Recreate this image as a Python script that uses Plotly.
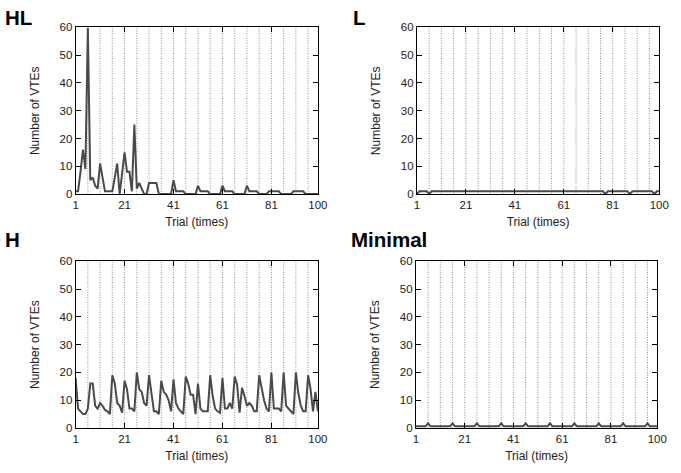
import plotly.graph_objects as go

trials = list(range(1, 101))

hl_vtes = [1, 1, 8, 16, 9, 60, 5, 6, 3, 2,
           11, 6, 1, 1, 1, 1, 6, 11, 0, 7,
           15, 8, 8, 1, 25, 2, 4, 2, 0, 0,
           4, 4, 4, 4, 0, 0, 0, 0, 0, 0,
           5, 1, 1, 1, 1, 0, 0, 0, 0, 0,
           3, 1, 1, 1, 1, 0, 0, 0, 0, 0,
           3, 1, 1, 1, 1, 0, 0, 0, 0, 0,
           3, 1, 1, 1, 1, 0, 0, 0, 0, 1,
           1, 1, 1, 1, 0, 0, 0, 0, 0, 1,
           1, 1, 1, 1, 0, 0, 0, 0, 0, 0]

l_vtes = [0, 1, 1, 1, 1, 0, 1, 1, 1, 1] + [1] * 67 + [0] + [1] * 9 + [0] + [1] * 9 + [0, 1, 1]

h_vtes = [18, 7, 6, 5, 5, 7, 16, 16, 8, 7,
          9, 8, 6.5, 6, 5, 19, 16, 9, 8, 5.5,
          17, 14, 7, 7, 6, 20, 14, 13, 9, 8,
          19, 11.5, 6, 6, 5, 17, 13, 12, 10, 6,
          17.5, 9, 7, 6, 5, 18.5, 16, 12, 12, 5,
          16, 7, 6, 6, 6, 19, 11.5, 7, 6, 5.5,
          18, 7, 7, 9, 7, 18.5, 15.5, 5.5, 14.5, 11.5,
          8, 9, 8, 6, 6, 19, 14, 10, 7, 6,
          20, 7, 7, 7, 6, 20, 8, 7, 6, 5,
          20, 12.5, 8, 6, 6, 19, 14, 6, 13, 6]

minimal_vtes = [0.6, 0.6, 0.6, 0.6, 0.6, 1.7, 0.6, 0.6, 0.6, 0.6] * 10

change_trials = [6, 11, 16, 21, 26, 31, 36, 41, 46, 51, 56, 61, 66, 71, 76, 81, 86, 91, 96]

x_ticks = [1, 21, 41, 61, 81, 100]
y_ticks = [0, 10, 20, 30, 40, 50, 60]

panels = [
    ("HL", hl_vtes, [0.1087, 0.4714], [0.592, 0.9535]),
    ("L", l_vtes, [0.6197, 0.9824], [0.592, 0.9535]),
    ("H", h_vtes, [0.1087, 0.4714], [0.0846, 0.4461]),
    ("Minimal", minimal_vtes, [0.6182, 0.9794], [0.0846, 0.4461]),
]

fig = go.Figure()
FONT = "Liberation Sans, Arial, sans-serif"
label_pos = [(0.002, 0.9746), (0.522, 0.9746), (0.002, 0.4926), (0.520, 0.4926)]

for i, (name, vals, xd, yd) in enumerate(panels):
    n = "" if i == 0 else str(i + 1)
    xa, ya = "x" + n, "y" + n
    dx, dy = [], []
    for t in change_trials:
        dx += [t, t, None]
        dy += [0, 60, None]
    fig.add_trace(go.Scatter(x=dx, y=dy, mode="lines", xaxis=xa, yaxis=ya,
                             line=dict(color="#909090", width=1, dash="1px,1.5px"),
                             showlegend=False, hoverinfo="skip"))
    fig.add_trace(go.Scatter(x=trials, y=vals, mode="lines", xaxis=xa, yaxis=ya,
                             line=dict(color="#4a4a4a", width=2),
                             showlegend=False))
    common = dict(showline=True, linecolor="black", linewidth=1, mirror="allticks",
                  ticks="inside", ticklen=5, tickcolor="black", showgrid=False,
                  zeroline=False, tickfont=dict(family=FONT, size=11.5, color="#222"))
    fig.layout["xaxis" + n] = dict(domain=xd, anchor=ya, range=[1, 100], tickvals=x_ticks,
                                   title=dict(text="Trial (times)", standoff=7,
                                              font=dict(family=FONT, size=12, color="#222")),
                                   **common)
    fig.layout["yaxis" + n] = dict(domain=yd, anchor=xa, range=[0, 60], tickvals=y_ticks,
                                   title=dict(text="Number of VTEs", standoff=17,
                                              font=dict(family=FONT, size=12, color="#222")),
                                   **common)
    fig.add_annotation(text="<b>" + name + "</b>", xref="paper", yref="paper",
                       x=label_pos[i][0], y=label_pos[i][1], xanchor="left", yanchor="middle",
                       showarrow=False, borderpad=0,
                       font=dict(family=FONT, size=20.5, color="black"))

fig.update_layout(width=681, height=473, margin=dict(l=0, r=0, t=0, b=0),
                  paper_bgcolor="white", plot_bgcolor="white")
fig.write_html("out.html")
